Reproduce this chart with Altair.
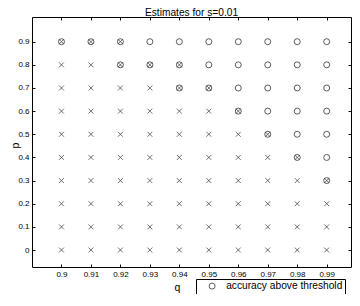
import altair as alt
import pandas as pd

q_vals = [0.9, 0.91, 0.92, 0.93, 0.94, 0.95, 0.96, 0.97, 0.98, 0.99]
p_vals = [0.9, 0.8, 0.7, 0.6, 0.5, 0.4, 0.3, 0.2, 0.1, 0.0]
# X = estimate only (cross), O = accuracy above threshold (circle), B = both
marks = [
    "BBBOOOOOOO",
    "XXBBBOOOOO",
    "XXXXBBOOOO",
    "XXXXXXBOOO",
    "XXXXXXXBOO",
    "XXXXXXXXBO",
    "XXXXXXXXXB",
    "XXXXXXXXXX",
    "XXXXXXXXXX",
    "XXXXXXXXXX",
]
legend_label = "accuracy above threshold"
title_text = "Estimates for s=0.01"

rows = []
for p, row in zip(p_vals, marks):
    for q, c in zip(q_vals, row):
        rows.append({"q": q, "p": p, "cross": c in "XB", "circ": c in "OB",
                     "label": legend_label})
df = pd.DataFrame(rows)

FONT = "Liberation Sans"
xscale = alt.Scale(domain=[0.89, 0.99825], nice=False, zero=False)
yscale = alt.Scale(domain=[-0.0734, 1.0067], nice=False, zero=False)
MC = "#333333"

base = alt.Chart(df)

crosses = base.transform_filter("datum.cross").mark_point(
    shape="M-1,-1L1,1M-1,1L1,-1", size=24, filled=False, color=MC,
    strokeWidth=0.7, opacity=1
).encode(
    x=alt.X("q:Q", scale=xscale, axis=alt.Axis(
        orient="bottom", values=q_vals, format=".2~f", offset=-3, tickSize=3,
        domain=False, grid=False, labelPadding=3, labelFontSize=8,
        title="q", titleX=145, titleY=26, titleFontSize=10.5,
        titleFontWeight="normal", titleBaseline="alphabetic", titleAlign="center")),
    y=alt.Y("p:Q", scale=yscale, axis=alt.Axis(
        orient="left", values=p_vals, format=".1~f", offset=-3, tickSize=3,
        domain=False, grid=False, labelPadding=3, labelFontSize=8,
        title="p", titleX=-20, titleY=128, titleAngle=270, titleFontSize=10.5,
        titleFontWeight="normal", titleBaseline="middle", titleAlign="center")),
)

circles = base.transform_filter("datum.circ").mark_point(
    shape="circle", size=36, filled=False, strokeWidth=0.8, opacity=1
).encode(
    x=alt.X("q:Q", scale=xscale, axis=alt.Axis(
        orient="top", values=q_vals, labels=False, title=None, offset=-3,
        tickSize=3, domain=False, grid=False)),
    y=alt.Y("p:Q", scale=yscale, axis=alt.Axis(
        orient="right", values=p_vals, labels=False, title=None, offset=-3,
        tickSize=3, domain=False, grid=False)),
    color=alt.Color(
        "label:N",
        scale=alt.Scale(range=[MC]),
        legend=alt.Legend(
            title=None, orient="none", legendX=164, legendY=262,
            strokeColor="#000", fillColor="#fff", padding=2,
            symbolOffset=9, labelOffset=9, symbolSize=36,
            symbolStrokeWidth=0.8, symbolType="circle",
            labelFontSize=10.2, labelFont=FONT, labelColor="#000",
            labelLimit=300)),
)

chart = alt.layer(crosses, circles).properties(
    width=319, height=250,
    title=alt.Title(title_text, fontSize=10.2, fontWeight="normal", font=FONT,
                    color="#000", offset=-9, baseline="bottom", dy=2.5),
    autosize=alt.AutoSizeParams(type="none"),
    padding={"left": 24, "top": 9, "right": 1, "bottom": 27},
).configure_view(
    stroke="#000", strokeWidth=1
).configure_axis(
    tickColor="#000", labelColor="#000", titleColor="#000",
    labelFont=FONT, titleFont=FONT, tickWidth=1
)

chart.save("out.html", embed_options={"renderer": "svg", "actions": False})
